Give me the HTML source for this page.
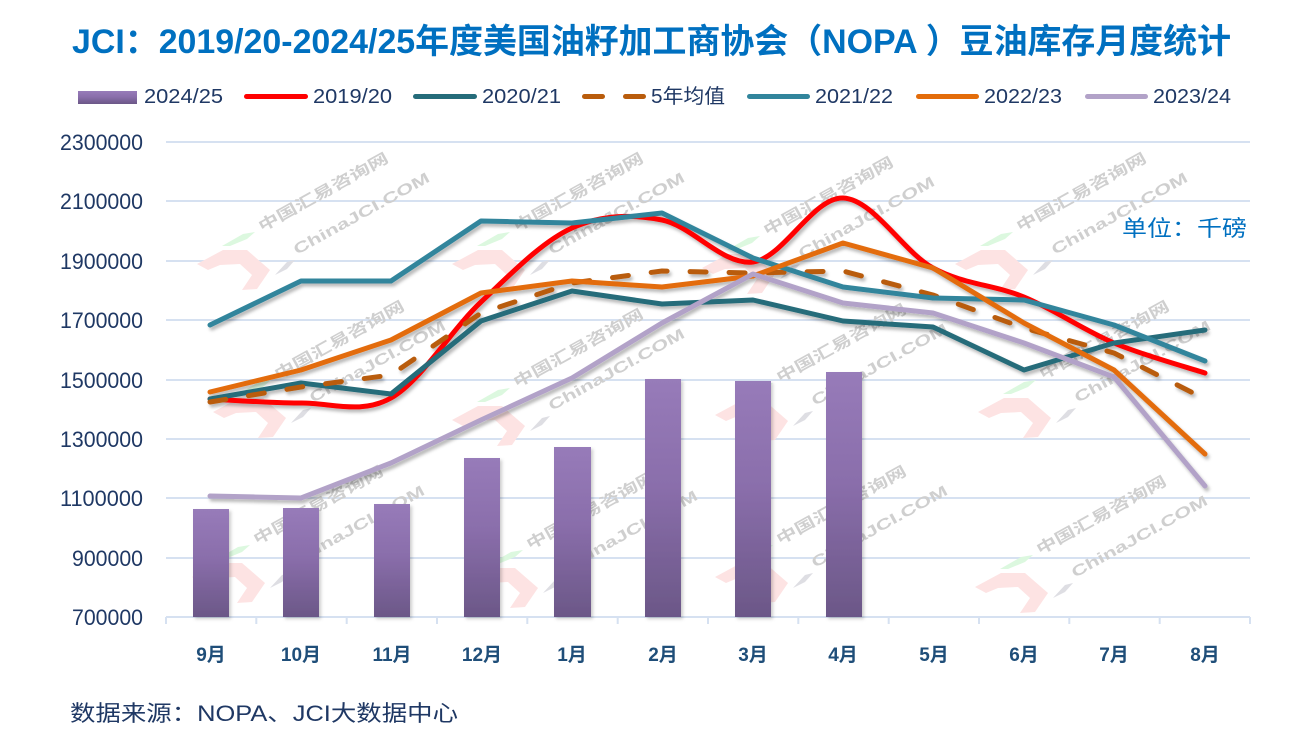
<!DOCTYPE html>
<html>
<head>
<meta charset="utf-8">
<style>
  html,body{margin:0;padding:0;background:#fff;}
  svg{display:block;}
  .t{font-family:"Liberation Sans","Noto Sans CJK SC",sans-serif;}
</style>
</head>
<body>
<svg width="1314" height="744" viewBox="0 0 1314 744" xmlns="http://www.w3.org/2000/svg">
<defs>
  <linearGradient id="bg" x1="0" y1="0" x2="0" y2="1">
    <stop offset="0" stop-color="#977bb9"/>
    <stop offset="0.45" stop-color="#8a6eab"/>
    <stop offset="1" stop-color="#6b5787"/>
  </linearGradient>
  <filter id="sh" x="-5%" y="-20%" width="110%" height="140%">
    <feDropShadow dx="2" dy="3" stdDeviation="1.5" flood-color="#000" flood-opacity="0.28"/>
  </filter>
  <filter id="bsh" x="-20%" y="-5%" width="140%" height="110%">
    <feDropShadow dx="2" dy="2" stdDeviation="1.5" flood-color="#000" flood-opacity="0.2"/>
  </filter>
</defs>
<rect width="1314" height="744" fill="#fff"/>

<!-- Title -->
<text class="t" x="72" y="53" font-size="34" font-weight="bold" fill="#0070c0" textLength="1159" lengthAdjust="spacingAndGlyphs">JCI：2019/20-2024/25年度美国油籽加工商协会（NOPA ）豆油库存月度统计</text>

<!-- Legend -->
<g class="t" font-size="20" fill="#1f3864">
  <rect x="78" y="91" width="59" height="13" fill="url(#bg)"/>
  <text x="144" y="103" textLength="79" lengthAdjust="spacingAndGlyphs">2024/25</text>
  <line x1="246.5" y1="96.5" x2="305.5" y2="96.5" stroke="#ff0000" stroke-width="5" stroke-linecap="round"/>
  <text x="313" y="103" textLength="79" lengthAdjust="spacingAndGlyphs">2019/20</text>
  <line x1="415.5" y1="96.5" x2="474.5" y2="96.5" stroke="#256c7a" stroke-width="5" stroke-linecap="round"/>
  <text x="482" y="103" textLength="79" lengthAdjust="spacingAndGlyphs">2020/21</text>
  <line x1="584.5" y1="96.5" x2="602.5" y2="96.5" stroke="#b95c0c" stroke-width="5" stroke-linecap="round"/>
  <line x1="625.5" y1="96.5" x2="643.5" y2="96.5" stroke="#b95c0c" stroke-width="5" stroke-linecap="round"/>
  <text x="651" y="103" textLength="74" lengthAdjust="spacingAndGlyphs">5年均值</text>
  <line x1="749.5" y1="96.5" x2="807.5" y2="96.5" stroke="#31859c" stroke-width="5" stroke-linecap="round"/>
  <text x="815" y="103" textLength="78" lengthAdjust="spacingAndGlyphs">2021/22</text>
  <line x1="918.5" y1="96.5" x2="976.5" y2="96.5" stroke="#e36c0a" stroke-width="5" stroke-linecap="round"/>
  <text x="984" y="103" textLength="78" lengthAdjust="spacingAndGlyphs">2022/23</text>
  <line x1="1087.5" y1="96.5" x2="1145.5" y2="96.5" stroke="#b2a2c8" stroke-width="5" stroke-linecap="round"/>
  <text x="1153" y="103" textLength="78" lengthAdjust="spacingAndGlyphs">2023/24</text>
</g>

<!-- Gridlines -->
<g stroke="#d6e1f1" stroke-width="2">
  <line x1="166" y1="142" x2="1250" y2="142"/>
  <line x1="166" y1="201" x2="1250" y2="201"/>
  <line x1="166" y1="261" x2="1250" y2="261"/>
  <line x1="166" y1="320" x2="1250" y2="320"/>
  <line x1="166" y1="380" x2="1250" y2="380"/>
  <line x1="166" y1="439" x2="1250" y2="439"/>
  <line x1="166" y1="498" x2="1250" y2="498"/>
  <line x1="166" y1="558" x2="1250" y2="558"/>
  <line x1="166" y1="617" x2="1250" y2="617"/>
  <line x1="166" y1="617" x2="166" y2="624"/>
  <line x1="256.3" y1="617" x2="256.3" y2="624"/>
  <line x1="346.7" y1="617" x2="346.7" y2="624"/>
  <line x1="437" y1="617" x2="437" y2="624"/>
  <line x1="527.3" y1="617" x2="527.3" y2="624"/>
  <line x1="617.7" y1="617" x2="617.7" y2="624"/>
  <line x1="708" y1="617" x2="708" y2="624"/>
  <line x1="798.3" y1="617" x2="798.3" y2="624"/>
  <line x1="888.7" y1="617" x2="888.7" y2="624"/>
  <line x1="979" y1="617" x2="979" y2="624"/>
  <line x1="1069.3" y1="617" x2="1069.3" y2="624"/>
  <line x1="1159.7" y1="617" x2="1159.7" y2="624"/>
  <line x1="1250" y1="617" x2="1250" y2="624"/>
</g>

<!-- Y axis labels -->
<g class="t" font-size="22" fill="#1f3864">
  <text x="60" y="150" textLength="83" lengthAdjust="spacingAndGlyphs">2300000</text>
  <text x="60" y="209" textLength="83" lengthAdjust="spacingAndGlyphs">2100000</text>
  <text x="60" y="269" textLength="83" lengthAdjust="spacingAndGlyphs">1900000</text>
  <text x="60" y="328" textLength="83" lengthAdjust="spacingAndGlyphs">1700000</text>
  <text x="60" y="388" textLength="83" lengthAdjust="spacingAndGlyphs">1500000</text>
  <text x="60" y="447" textLength="83" lengthAdjust="spacingAndGlyphs">1300000</text>
  <text x="60" y="506" textLength="83" lengthAdjust="spacingAndGlyphs">1100000</text>
  <text x="72" y="566" textLength="71" lengthAdjust="spacingAndGlyphs">900000</text>
  <text x="72" y="625" textLength="71" lengthAdjust="spacingAndGlyphs">700000</text>
</g>

<!-- X axis labels -->
<g class="t" font-size="19" font-weight="bold" fill="#1f4e79" text-anchor="middle">
  <text x="211" y="661">9月</text>
  <text x="301" y="661">10月</text>
  <text x="392" y="661">11月</text>
  <text x="482" y="661">12月</text>
  <text x="572" y="661">1月</text>
  <text x="663" y="661">2月</text>
  <text x="753" y="661">3月</text>
  <text x="843" y="661">4月</text>
  <text x="934" y="661">5月</text>
  <text x="1024" y="661">6月</text>
  <text x="1114" y="661">7月</text>
  <text x="1205" y="661">8月</text>
</g>

<!-- Watermarks -->
<g class="t">
  <g transform="translate(262,232)">
    <polygon points="-65,32 -39,18 -15,18 8,38 -5,57 -20,58 -10,43 -22,32 -42,33 -54,38" fill="#fde3e3"/>
    <polygon points="-40,14 -19,2 -7,0 -15,7 -32,14" fill="#dcf8df"/>
    <polygon points="13,43 25,30 33,28 25,37" fill="#dedee3"/>
    <text transform="rotate(-29)" font-size="15" font-weight="bold" fill="#cfcfcf" textLength="146" lengthAdjust="spacingAndGlyphs">中国汇易咨询网</text>
    <text transform="translate(35,23) rotate(-29)" font-size="15" font-weight="bold" fill="#cfcfcf" textLength="153" lengthAdjust="spacingAndGlyphs">ChinaJCI.COM</text>
  </g>
  <g transform="translate(517,232)">
    <polygon points="-65,32 -39,18 -15,18 8,38 -5,57 -20,58 -10,43 -22,32 -42,33 -54,38" fill="#fde3e3"/>
    <polygon points="-40,14 -19,2 -7,0 -15,7 -32,14" fill="#dcf8df"/>
    <polygon points="13,43 25,30 33,28 25,37" fill="#dedee3"/>
    <text transform="rotate(-29)" font-size="15" font-weight="bold" fill="#cfcfcf" textLength="146" lengthAdjust="spacingAndGlyphs">中国汇易咨询网</text>
    <text transform="translate(35,23) rotate(-29)" font-size="15" font-weight="bold" fill="#cfcfcf" textLength="153" lengthAdjust="spacingAndGlyphs">ChinaJCI.COM</text>
  </g>
  <g transform="translate(767,236)">
    <polygon points="-65,32 -39,18 -15,18 8,38 -5,57 -20,58 -10,43 -22,32 -42,33 -54,38" fill="#fde3e3"/>
    <polygon points="-40,14 -19,2 -7,0 -15,7 -32,14" fill="#dcf8df"/>
    <polygon points="13,43 25,30 33,28 25,37" fill="#dedee3"/>
    <text transform="rotate(-29)" font-size="15" font-weight="bold" fill="#cfcfcf" textLength="146" lengthAdjust="spacingAndGlyphs">中国汇易咨询网</text>
    <text transform="translate(35,23) rotate(-29)" font-size="15" font-weight="bold" fill="#cfcfcf" textLength="153" lengthAdjust="spacingAndGlyphs">ChinaJCI.COM</text>
  </g>
  <g transform="translate(1020,232)">
    <polygon points="-65,32 -39,18 -15,18 8,38 -5,57 -20,58 -10,43 -22,32 -42,33 -54,38" fill="#fde3e3"/>
    <polygon points="-40,14 -19,2 -7,0 -15,7 -32,14" fill="#dcf8df"/>
    <polygon points="13,43 25,30 33,28 25,37" fill="#dedee3"/>
    <text transform="rotate(-29)" font-size="15" font-weight="bold" fill="#cfcfcf" textLength="146" lengthAdjust="spacingAndGlyphs">中国汇易咨询网</text>
    <text transform="translate(35,23) rotate(-29)" font-size="15" font-weight="bold" fill="#cfcfcf" textLength="153" lengthAdjust="spacingAndGlyphs">ChinaJCI.COM</text>
  </g>
  <g transform="translate(278,380)">
    <polygon points="-65,32 -39,18 -15,18 8,38 -5,57 -20,58 -10,43 -22,32 -42,33 -54,38" fill="#fde3e3"/>
    <polygon points="-40,14 -19,2 -7,0 -15,7 -32,14" fill="#dcf8df"/>
    <polygon points="13,43 25,30 33,28 25,37" fill="#dedee3"/>
    <text transform="rotate(-29)" font-size="15" font-weight="bold" fill="#cfcfcf" textLength="146" lengthAdjust="spacingAndGlyphs">中国汇易咨询网</text>
    <text transform="translate(35,23) rotate(-29)" font-size="15" font-weight="bold" fill="#cfcfcf" textLength="153" lengthAdjust="spacingAndGlyphs">ChinaJCI.COM</text>
  </g>
  <g transform="translate(517,388)">
    <polygon points="-65,32 -39,18 -15,18 8,38 -5,57 -20,58 -10,43 -22,32 -42,33 -54,38" fill="#fde3e3"/>
    <polygon points="-40,14 -19,2 -7,0 -15,7 -32,14" fill="#dcf8df"/>
    <polygon points="13,43 25,30 33,28 25,37" fill="#dedee3"/>
    <text transform="rotate(-29)" font-size="15" font-weight="bold" fill="#cfcfcf" textLength="146" lengthAdjust="spacingAndGlyphs">中国汇易咨询网</text>
    <text transform="translate(35,23) rotate(-29)" font-size="15" font-weight="bold" fill="#cfcfcf" textLength="153" lengthAdjust="spacingAndGlyphs">ChinaJCI.COM</text>
  </g>
  <g transform="translate(780,383)">
    <polygon points="-65,32 -39,18 -15,18 8,38 -5,57 -20,58 -10,43 -22,32 -42,33 -54,38" fill="#fde3e3"/>
    <polygon points="-40,14 -19,2 -7,0 -15,7 -32,14" fill="#dcf8df"/>
    <polygon points="13,43 25,30 33,28 25,37" fill="#dedee3"/>
    <text transform="rotate(-29)" font-size="15" font-weight="bold" fill="#cfcfcf" textLength="146" lengthAdjust="spacingAndGlyphs">中国汇易咨询网</text>
    <text transform="translate(35,23) rotate(-29)" font-size="15" font-weight="bold" fill="#cfcfcf" textLength="153" lengthAdjust="spacingAndGlyphs">ChinaJCI.COM</text>
  </g>
  <g transform="translate(1043,380)">
    <polygon points="-65,32 -39,18 -15,18 8,38 -5,57 -20,58 -10,43 -22,32 -42,33 -54,38" fill="#fde3e3"/>
    <polygon points="-40,14 -19,2 -7,0 -15,7 -32,14" fill="#dcf8df"/>
    <polygon points="13,43 25,30 33,28 25,37" fill="#dedee3"/>
    <text transform="rotate(-29)" font-size="15" font-weight="bold" fill="#cfcfcf" textLength="146" lengthAdjust="spacingAndGlyphs">中国汇易咨询网</text>
    <text transform="translate(35,23) rotate(-29)" font-size="15" font-weight="bold" fill="#cfcfcf" textLength="153" lengthAdjust="spacingAndGlyphs">ChinaJCI.COM</text>
  </g>
  <g transform="translate(257,545)">
    <polygon points="-65,32 -39,18 -15,18 8,38 -5,57 -20,58 -10,43 -22,32 -42,33 -54,38" fill="#fde3e3"/>
    <polygon points="-40,14 -19,2 -7,0 -15,7 -32,14" fill="#dcf8df"/>
    <polygon points="13,43 25,30 33,28 25,37" fill="#dedee3"/>
    <text transform="rotate(-29)" font-size="15" font-weight="bold" fill="#cfcfcf" textLength="146" lengthAdjust="spacingAndGlyphs">中国汇易咨询网</text>
    <text transform="translate(35,23) rotate(-29)" font-size="15" font-weight="bold" fill="#cfcfcf" textLength="153" lengthAdjust="spacingAndGlyphs">ChinaJCI.COM</text>
  </g>
  <g transform="translate(530,550)">
    <polygon points="-65,32 -39,18 -15,18 8,38 -5,57 -20,58 -10,43 -22,32 -42,33 -54,38" fill="#fde3e3"/>
    <polygon points="-40,14 -19,2 -7,0 -15,7 -32,14" fill="#dcf8df"/>
    <polygon points="13,43 25,30 33,28 25,37" fill="#dedee3"/>
    <text transform="rotate(-29)" font-size="15" font-weight="bold" fill="#cfcfcf" textLength="146" lengthAdjust="spacingAndGlyphs">中国汇易咨询网</text>
    <text transform="translate(35,23) rotate(-29)" font-size="15" font-weight="bold" fill="#cfcfcf" textLength="153" lengthAdjust="spacingAndGlyphs">ChinaJCI.COM</text>
  </g>
  <g transform="translate(780,545)">
    <polygon points="-65,32 -39,18 -15,18 8,38 -5,57 -20,58 -10,43 -22,32 -42,33 -54,38" fill="#fde3e3"/>
    <polygon points="-40,14 -19,2 -7,0 -15,7 -32,14" fill="#dcf8df"/>
    <polygon points="13,43 25,30 33,28 25,37" fill="#dedee3"/>
    <text transform="rotate(-29)" font-size="15" font-weight="bold" fill="#cfcfcf" textLength="146" lengthAdjust="spacingAndGlyphs">中国汇易咨询网</text>
    <text transform="translate(35,23) rotate(-29)" font-size="15" font-weight="bold" fill="#cfcfcf" textLength="153" lengthAdjust="spacingAndGlyphs">ChinaJCI.COM</text>
  </g>
  <g transform="translate(1040,555)">
    <polygon points="-65,32 -39,18 -15,18 8,38 -5,57 -20,58 -10,43 -22,32 -42,33 -54,38" fill="#fde3e3"/>
    <polygon points="-40,14 -19,2 -7,0 -15,7 -32,14" fill="#dcf8df"/>
    <polygon points="13,43 25,30 33,28 25,37" fill="#dedee3"/>
    <text transform="rotate(-29)" font-size="15" font-weight="bold" fill="#cfcfcf" textLength="146" lengthAdjust="spacingAndGlyphs">中国汇易咨询网</text>
    <text transform="translate(35,23) rotate(-29)" font-size="15" font-weight="bold" fill="#cfcfcf" textLength="153" lengthAdjust="spacingAndGlyphs">ChinaJCI.COM</text>
  </g>
</g>

<!-- Bars 2024/25 -->
<g fill="url(#bg)" filter="url(#bsh)">
  <rect x="193" y="509" width="36" height="108"/>
  <rect x="283" y="508" width="36" height="109"/>
  <rect x="374" y="504" width="36" height="113"/>
  <rect x="464" y="458" width="36" height="159"/>
  <rect x="554" y="447" width="37" height="170"/>
  <rect x="645" y="379" width="36" height="238"/>
  <rect x="735" y="381" width="36" height="236"/>
  <rect x="826" y="372" width="36" height="245"/>
</g>

<!-- Lines -->
<g fill="none" stroke-width="5" stroke-linecap="round" stroke-linejoin="round" filter="url(#sh)">
  <!-- 2019/20 smooth -->
  <path stroke="#ff0000" d="M210,399 C225.2,399.7 270.8,403.2 301,403 C331.2,402.8 361,414.8 391,398 C421,381.2 450.8,330.3 481,302 C511.2,273.7 541.8,241.7 572,228 C602.2,214.3 631.8,214.3 662,220 C692.2,225.7 722.8,265.7 753,262 C783.2,258.3 813,197 843,198 C873,199 902.8,251.5 933,268 C963.2,284.5 993.8,284.5 1024,297 C1054.2,309.5 1083.8,330.3 1114,343 C1144.2,355.7 1189.8,368 1205,373"/>
  <!-- 2020/21 -->
  <polyline stroke="#256c7a" points="210,399 301,383 391,394 481,321 572,291 662,304 753,300 843,321 933,327 1024,370 1114,343 1205,330"/>
  <!-- 5年均值 -->
  <polyline stroke="#b95c0c" stroke-dasharray="16 23" points="210,402 301,387 391,375 481,313 572,283 662,271 753,273 843,271 933,295 1024,328 1114,353 1205,399"/>
  <!-- 2021/22 -->
  <polyline stroke="#31859c" points="210,325 301,281 391,281 481,221 572,223 662,213 753,258 843,287 933,298 1024,300 1114,325 1205,361"/>
  <!-- 2022/23 -->
  <polyline stroke="#e36c0a" points="210,392 301,370 391,340 481,293 572,281 662,287 753,276 843,243 933,268 1024,323 1114,370 1205,454"/>
  <!-- 2023/24 -->
  <polyline stroke="#b2a2c8" points="210,496 301,498 391,463 481,420 572,378 662,323 753,274 843,303 933,313 1024,343 1114,377 1205,486"/>
</g>

<!-- Unit -->
<text class="t" x="1122" y="236" font-size="22" fill="#0070c0" textLength="125" lengthAdjust="spacingAndGlyphs">单位：千磅</text>

<!-- Source -->
<text class="t" x="70" y="721" font-size="22" fill="#1f3864" textLength="388" lengthAdjust="spacingAndGlyphs">数据来源：NOPA、JCI大数据中心</text>
</svg>
</body>
</html>
